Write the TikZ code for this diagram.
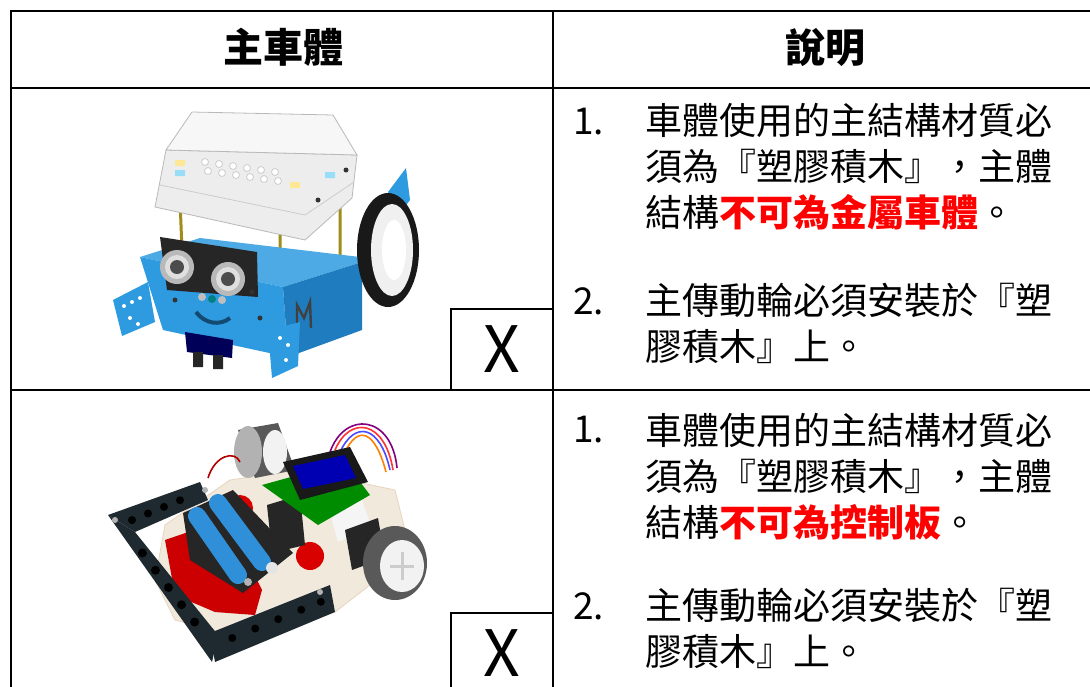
\documentclass[tikz,border=0pt]{standalone}
\usepackage{fontspec}
\setmainfont{Noto Sans CJK TC}
\usetikzlibrary{positioning,calc}
\definecolor{mblue}{HTML}{2E9BE0}
\definecolor{mside}{HTML}{1F7CBF}
\definecolor{warnred}{HTML}{FF0000}
\definecolor{beam}{HTML}{1F2A30}
\definecolor{board}{HTML}{F1E9DC}
\definecolor{batt}{HTML}{2F8FD8}
\tikzset{
    grid/.style={line width=1.4pt},
    xbox/.style={draw, line width=1pt, minimum width=51pt, minimum height=40.5pt,
        inner sep=0pt, font=\fontsize{32}{32}\selectfont},
    head/.style={font=\fontsize{20}{20}\selectfont\bfseries},
    num/.style={anchor=base west, inner sep=0pt, font=\fontsize{18.5}{23}\selectfont},
    item/.style={anchor=base west, inner sep=0pt, align=left, font=\fontsize{18.5}{23}\selectfont},
    }
\newcommand{\warn}[1]{\textcolor{warnred}{\bfseries #1}}

\begin{document}
\begin{tikzpicture}[x=0.5pt,y=-0.5pt]
	\clip (0,0) rectangle (1090,686);
	\fill[white] (0,0) rectangle (1090,686);
	% table
	\draw[grid] (1090,11) -- (11,11) -- (11,690);
	\draw[grid] (11,88) -- (1090,88);
	\draw[grid] (11,390) -- (1090,390);
	\draw[grid] (553,11) -- (553,690);
	\node[head] (hBody) at (283,47) {主車體};
	\node[head] (hNote) at (825,47) {說明};

	% --- robot 1
	\fill[mblue] (388,192) -- (406,168) -- (410,200) -- (398,216) -- cycle;
	\draw[olive!70!brown, line width=1.5pt] (180,200) -- (182,250) (280,215) -- (280,285) (340,190) -- (340,262);
	\fill[mblue!85!white] (140,257) -- (200,238) -- (360,257) -- (362,262) -- (283,287) -- cycle;
	\fill[mblue] (140,257) -- (283,287) -- (288,357) -- (163,330) -- cycle;
	\fill[mside] (283,287) -- (362,262) -- (362,330) -- (288,357) -- cycle;
	\draw[black!75, line width=1.2pt] (297,330) -- (297,305) -- (304,318) -- (310,302) -- (311,328);
	% clear box
	\filldraw[fill=gray!14, draw=gray!55] (166,150) -- (357,155) -- (352,198) -- (305,240) -- (155,207) -- cycle;
	\filldraw[fill=gray!6, draw=gray!55] (192,112) -- (333,115) -- (357,155) -- (166,150) -- cycle;
	\draw[gray!40] (160,185) -- (305,215) -- (354,182);
	\foreach \i in {0,...,5}
		\foreach \j in {0,1}
			\fill[white, draw=gray!40] (205+14*\i+3*\j,162+9*\j+2*\i) circle (3.5);
	\fill[yellow!60!orange!40] (175,160) rectangle (185,166) (290,182) rectangle (300,188);
	\fill[cyan!40] (175,170) rectangle (185,176) (325,172) rectangle (335,178);
	\fill[black!80] (318,200) circle (2.5) (346,170) circle (2.5);
	% wheel
	\fill[black!90] (388,250) ellipse [x radius=31, y radius=57];
	\fill[gray!12] (392,250) ellipse [x radius=21, y radius=46];
	\fill[white] (394,250) ellipse [x radius=12, y radius=30];
	% sensor
	\fill[black!85] (160,237) -- (257,252) -- (258,297) -- (167,290) -- cycle;
	\foreach \cx/\cy in {177/267, 228/279} {
		\fill[gray!55] (\cx,\cy) circle (17);
		\fill[gray!25] (\cx,\cy) circle (12);
		\fill[black!70] (\cx,\cy) circle (7);
	}
	\fill[gray!50] (202,297) circle (4) (222,300) circle (4);
	\fill[teal] (212,299) circle (4);
	\draw[mside!60!black, line width=2pt] (196,312) .. controls (205,324) and (220,326) .. (230,318);
	\fill[black!80] (175,300) circle (2.5) (260,318) circle (2.5) (252,292) circle (2.5);
	% ears and line follower
	\fill[mblue] (113,300) -- (148,282) -- (155,322) -- (122,336) -- cycle;
	\fill[mblue] (268,330) -- (300,322) -- (298,366) -- (272,378) -- cycle;
	\foreach \cx/\cy in {124/306, 132/302, 140/298, 130/318, 138/324, 280/338, 288/345, 286/360}
		\fill[white] (\cx,\cy) circle (2);
	\fill[blue!35!black] (185,332) -- (233,340) -- (232,358) -- (187,352) -- cycle;
	\fill[black!85] (193,352) rectangle (203,367) (213,355) rectangle (223,369);

	% --- robot 2
	\filldraw[fill=board, draw=board!80!brown] (165,525) -- (230,480) -- (300,470) -- (395,490) -- (405,530)
		-- (370,585) -- (335,612) -- (250,640) -- (175,620) -- (155,580) -- cycle;
	\fill[red!80!black] (165,540) -- (200,528) -- (240,545) -- (262,590) -- (255,615) -- (215,612) -- (175,595) -- cycle;
	\fill[red!85!black] (240,508) circle (13) (310,556) circle (14);
	% wheels and motor
	\fill[gray!70!black] (238,430) -- (278,423) -- (295,470) -- (255,478) -- cycle;
	\fill[gray!60] (248,452) ellipse [x radius=14, y radius=26];
	\fill[gray!10] (275,452) ellipse [x radius=12, y radius=22];
	\fill[gray!8] (330,513) -- (362,500) -- (372,528) -- (338,542) -- cycle;
	\fill[black!85] (345,530) -- (378,518) -- (385,558) -- (352,570) -- cycle;
	\fill[gray!70!black] (395,563) ellipse [x radius=32, y radius=37];
	\fill[gray!10] (402,566) ellipse [x radius=22, y radius=26];
	\draw[gray!40, line width=1.5pt] (402,552) -- (402,580) (390,566) -- (414,566);
	% headers and lcd
	\fill[black!85] (267,505) -- (300,495) -- (305,545) -- (272,553) -- cycle;
	\draw[red!80, thick] (335,450) .. controls (350,415) and (385,420) .. (393,470);
	\draw[blue!70, thick] (340,452) .. controls (355,420) and (380,425) .. (390,470);
	\draw[orange, thick] (345,452) .. controls (358,425) and (375,430) .. (386,472);
	\draw[violet, thick] (330,452) .. controls (345,410) and (392,415) .. (397,468);
	\draw[red!70!black, thick] (208,478) .. controls (215,455) and (235,450) .. (240,462);
	\fill[green!55!black] (262,485) -- (345,462) -- (370,495) -- (318,525) -- cycle;
	\fill[black!90] (283,462) -- (350,447) -- (368,482) -- (300,500) -- cycle;
	\fill[blue!70!black] (293,466) -- (345,455) -- (356,478) -- (303,489) -- cycle;
	% battery box
	\fill[black!85] (183,513) -- (233,490) -- (293,553) -- (243,593) -- (190,560) -- cycle;
	\draw[batt, line width=9pt, line cap=round] (197,516) -- (238,575);
	\draw[batt, line width=9pt, line cap=round] (218,503) -- (262,562);
	\fill[gray!60] (248,582) circle (4);
	% lego frame
	\fill[beam] (108,515) -- (200,482) -- (208,500) -- (135,532) -- cycle;
	\fill[beam] (108,515) -- (135,532) -- (218,635) -- (212,662) -- cycle;
	\fill[beam] (210,633) -- (330,585) -- (335,612) -- (215,662) -- cycle;
	\foreach \t in {0.15,0.35,0.55,0.75}
		\fill[black] ($(120,525)!\t!(200,492)$) circle (4);
	\foreach \t in {0.2,0.35,...,0.9}
		\fill[black] ($(125,530)!\t!(212,645)$) circle (4.5);
	\foreach \t in {0.15,0.35,0.55,0.75,0.92}
		\fill[black] ($(215,645)!\t!(330,598)$) circle (4);
	\fill[gray!60] (115,520) circle (3) (205,490) circle (3) (320,592) circle (3);
	\fill[gray!20] (272,568) circle (6);

	% X boxes
	\node[xbox] (cross1) at (502,349.5) {X};
	\node[xbox] (cross2) at (502,653.5) {X};

	% notes, row 1 (base = last line)
	\node[num] (n11) at (573,134) {1.};
	\node[item] (t11) at (645,226) {車體使用的主結構材質必\\須為『塑膠積木』，主體\\結構\warn{不可為金屬車體}。};
	\node[num] (n12) at (573,314) {2.};
	\node[item] (t12) at (645,360) {主傳動輪必須安裝於『塑\\膠積木』上。};
	% notes, row 2
	\node[num] (n21) at (573,442) {1.};
	\node[item] (t21) at (645,536) {車體使用的主結構材質必\\須為『塑膠積木』，主體\\結構\warn{不可為控制板}。};
	\node[num] (n22) at (573,619) {2.};
	\node[item] (t22) at (645,665) {主傳動輪必須安裝於『塑\\膠積木』上。};
\end{tikzpicture}
\end{document}
